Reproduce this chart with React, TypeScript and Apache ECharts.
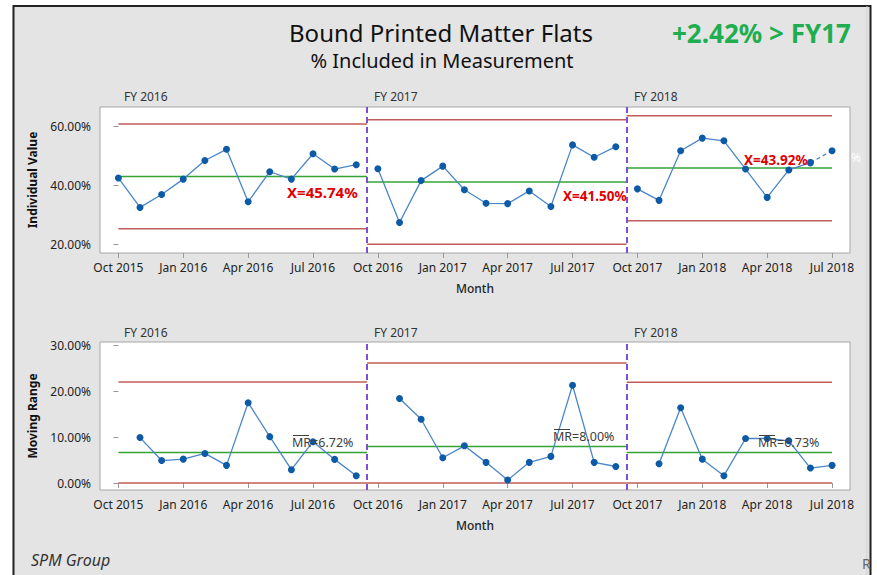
import React, { useEffect, useRef } from "react";
import * as echarts from "echarts";

// ---------- data ----------
const stageNames = ["FY 2016", "FY 2017", "FY 2018"];
const monthTickLabels = [
  "Oct 2015", "Jan 2016", "Apr 2016", "Jul 2016",
  "Oct 2016", "Jan 2017", "Apr 2017", "Jul 2017",
  "Oct 2017", "Jan 2018", "Apr 2018", "Jul 2018",
];
const fy16Values = [42.4, 32.4, 36.8, 42.0, 48.3, 52.1, 34.3, 44.5, 42.0, 50.6, 45.4, 46.9];
const fy17Values = [45.5, 27.3, 41.5, 46.4, 38.4, 33.8, 33.7, 38.0, 32.7, 53.6, 49.4, 53.0];
const fy18Values = [38.7, 34.8, 51.6, 55.9, 55.0, 45.4, 35.8, 45.1, 47.6, 51.6];

const fy16MR = [null, 9.9, 4.9, 5.2, 6.45, 3.85, 17.5, 10.1, 2.9, 9.0, 5.15, 1.6];
const fy17MR = [null, 18.4, 13.9, 5.5, 8.1, 4.5, 0.65, 4.5, 5.8, 21.3, 4.5, 3.6];
const fy18MR = [null, 4.2, 16.4, 5.2, 1.6, 9.7, 9.7, 9.2, 3.26, 3.85];

const indUCL = [60.7, 62.1, 63.5];
const indCL = [42.9, 41.0, 45.8];
const indLCL = [25.2, 19.9, 27.9];
const mrUCL = [22.0, 26.15, 21.96];
const mrCL = [6.67, 7.97, 6.67];
const mrLCL = [0, 0, 0];

const indMeanLabels = ["X=45.74%", "X=41.50%", "X=43.92%"];
const mrMeanLabels = ["MR=6.72%", "MR=8.00%", "MR=6.73%"];
const indTicks = [20, 40, 60];
const mrTicks = [0, 10, 20, 30];

// ---------- styles ----------
const FONT = '"Noto Sans", "Open Sans", sans-serif';
const LIMIT_COLOR = "#c05c5a";
const CL_COLOR = "#35a336";
const LINE_COLOR = "#4a86c8";
const POINT_COLOR = "#0d5aa7";
const DIVIDER_COLOR = "#7d4fd1";

export default function App() {
  const ref = useRef<HTMLDivElement>(null);

  useEffect(() => {
    if (!ref.current) return;
    const chart = echarts.init(ref.current, undefined, { renderer: "svg" });

    const stageInd = [fy16Values, fy17Values, fy18Values];
    const stageMR = [fy16MR, fy17MR, fy18MR];
    const starts: number[] = [];
    let acc = 0;
    stageInd.forEach((v) => {
      starts.push(acc);
      acc += v.length;
    });
    const lastIdx = acc - 1;
    const boundaries = starts.slice(1).map((s) => s - 0.5);
    const segStart = (s: number) => (s === 0 ? starts[0] : boundaries[s - 1]);
    const segEnd = (s: number) => (s === stageInd.length - 1 ? lastIdx : boundaries[s]);
    const tickIdx = monthTickLabels.map((_, i) => i * 3);

    const series: any[] = [];

    const limitSeries = (grid: number, s: number, val: number, color: string, extra: any = {}) => ({
      type: "line",
      xAxisIndex: grid,
      yAxisIndex: grid,
      data: [
        [segStart(s), val],
        [segEnd(s), val],
      ],
      symbol: "none",
      silent: true,
      lineStyle: { color, width: 1.5 },
      z: 2,
      ...extra,
    });

    const dividerMarkLine = {
      symbol: "none",
      silent: true,
      label: { show: false },
      lineStyle: { color: DIVIDER_COLOR, type: [6, 4], width: 2 },
      data: boundaries.map((b) => ({ xAxis: b })),
    };

    // limits
    stageInd.forEach((_, s) => {
      series.push(limitSeries(0, s, indUCL[s], LIMIT_COLOR, s === 0 ? { markLine: dividerMarkLine } : {}));
      series.push(limitSeries(0, s, indCL[s], CL_COLOR));
      series.push(limitSeries(0, s, indLCL[s], LIMIT_COLOR));
      series.push(limitSeries(1, s, mrUCL[s], LIMIT_COLOR, s === 0 ? { markLine: dividerMarkLine } : {}));
      series.push(limitSeries(1, s, mrCL[s], CL_COLOR));
      series.push(limitSeries(1, s, mrLCL[s], LIMIT_COLOR));
    });

    const pointSeries = (grid: number, data: any[], dashed = false) => ({
      type: "line",
      xAxisIndex: grid,
      yAxisIndex: grid,
      data,
      symbol: "circle",
      symbolSize: 7,
      itemStyle: { color: POINT_COLOR },
      lineStyle: { color: LINE_COLOR, width: 1.3, type: dashed ? [4, 3] : "solid" },
      z: 5,
      silent: true,
    });

    stageInd.forEach((vals, s) => {
      const pts = vals.map((v, i) => [starts[s] + i, v]);
      if (s === stageInd.length - 1) {
        series.push(pointSeries(0, pts.slice(0, pts.length - 1)));
        series.push(pointSeries(0, pts.slice(pts.length - 2), true));
      } else {
        series.push(pointSeries(0, pts));
      }
      const mr = stageMR[s]
        .map((v, i) => (v == null ? null : [starts[s] + i, v]))
        .filter((p) => p !== null);
      series.push(pointSeries(1, mr as any[]));
    });

    const xAxisBase = (grid: number) => ({
      type: "value",
      gridIndex: grid,
      min: -0.85,
      max: 33.83,
      name: "Month",
      nameLocation: "middle",
      nameGap: 29,
      nameTextStyle: { fontFamily: FONT, fontSize: 12, color: "#222", fontWeight: 500 },
      axisLine: { show: false },
      splitLine: { show: false },
      axisTick: { show: true, customValues: tickIdx, length: 5, lineStyle: { color: "#999" } },
      axisLabel: {
        customValues: tickIdx,
        margin: 8,
        fontFamily: FONT,
        fontSize: 12,
        color: "#222",
        formatter: (v: number) => monthTickLabels[Math.round(v / 3)] ?? "",
      },
    });

    const yAxisBase = (grid: number, min: number, max: number, ticks: number[], name: string) => ({
      type: "value",
      gridIndex: grid,
      min,
      max,
      name,
      nameLocation: "middle",
      nameGap: 62,
      nameTextStyle: { fontFamily: FONT, fontSize: 12, color: "#111", fontWeight: "bold" },
      axisLine: { show: false },
      splitLine: { show: false },
      axisTick: { show: true, customValues: ticks, length: 5, lineStyle: { color: "#999" } },
      axisLabel: {
        customValues: ticks,
        margin: 9,
        fontFamily: FONT,
        fontSize: 12,
        color: "#222",
        formatter: (v: number) => v.toFixed(2) + "%",
      },
    });

    const textEl = (text: string, x: number, y: number, style: any = {}) => ({
      type: "text",
      x,
      y,
      silent: true,
      z: 100,
      style: {
        text,
        fill: "#333",
        fontFamily: FONT,
        fontSize: 12,
        align: "left",
        verticalAlign: "middle",
        ...style,
      },
    });

    const stageLabelX = [124, 374, 634];
    const indLabelPos = [
      [287, 192],
      [563, 196],
      [744, 160],
    ];
    const indLabelSize = [15, 13.5, 13.5];
    const mrLabelPos = [
      [292, 442],
      [553, 436],
      [758, 442],
    ];

    const graphics: any[] = [
      // outside-frame white masks and frame
      { type: "rect", shape: { x: 0, y: 0, width: 12.5, height: 575 }, style: { fill: "#fff" }, silent: true },
      { type: "rect", shape: { x: 0, y: 0, width: 877, height: 5 }, style: { fill: "#fff" }, silent: true },
      { type: "rect", shape: { x: 871.5, y: 0, width: 6, height: 575 }, style: { fill: "#fff" }, silent: true },
      {
        type: "polyline",
        shape: { points: [[13.5, 580], [13.5, 6], [870.5, 6], [870.5, 580]] },
        style: { stroke: "#222", lineWidth: 2, fill: null },
        silent: true,
      },
      {
        type: "line",
        shape: { x1: 867, y1: 6, x2: 867, y2: 580 },
        style: { stroke: "#cfcfcf", lineWidth: 1 },
        silent: true,
      },
      textEl("Bound Printed Matter Flats", 441, 32, { align: "center", fontSize: 24, fill: "#111" }),
      textEl("% Included in Measurement", 442, 60, { align: "center", fontSize: 20, fill: "#111" }),
      textEl("+2.42% > FY17", 672, 33, { fontSize: 26, fontWeight: "bold", fill: "#1fae4f" }),
      textEl("SPM Group", 31, 560, { fontSize: 16, fontStyle: "italic", fill: "#333" }),
      textEl("R", 862, 563, { fontSize: 14, fill: "#666" }),
      textEl("%", 851, 157, { fontSize: 12, fill: "#fff" }),
    ];
    stageNames.forEach((n, s) => {
      graphics.push(textEl(n, stageLabelX[s], 96, { fill: "#333" }));
      graphics.push(textEl(n, stageLabelX[s], 332, { fill: "#333" }));
      graphics.push(
        textEl(indMeanLabels[s], indLabelPos[s][0], indLabelPos[s][1], {
          fontSize: indLabelSize[s],
          fontWeight: "bold",
          fill: "#e00000",
        })
      );
      graphics.push(
        textEl(mrMeanLabels[s], mrLabelPos[s][0], mrLabelPos[s][1], { fontSize: 12.5, fill: "#404040" })
      );
      graphics.push({
        type: "line",
        silent: true,
        z: 100,
        shape: {
          x1: mrLabelPos[s][0] + 1,
          y1: mrLabelPos[s][1] - 6.5,
          x2: mrLabelPos[s][0] + 17,
          y2: mrLabelPos[s][1] - 6.5,
        },
        style: { stroke: "#404040", lineWidth: 1 },
      });
    });

    chart.setOption({
      animation: false,
      backgroundColor: "#e4e4e4",
      grid: [
        { left: 100, top: 107, width: 750, height: 146, show: true, backgroundColor: "#fff", borderColor: "#a6a6a6", borderWidth: 1 },
        { left: 100, top: 342, width: 750, height: 148, show: true, backgroundColor: "#fff", borderColor: "#a6a6a6", borderWidth: 1 },
      ],
      xAxis: [xAxisBase(0), xAxisBase(1)],
      yAxis: [
        yAxisBase(0, 16.95, 66.45, indTicks, "Individual Value"),
        yAxisBase(1, -1.52, 30.72, mrTicks, "Moving Range"),
      ],
      series,
      graphic: graphics,
    });

    return () => chart.dispose();
  }, []);

  return (
    <div
      ref={ref}
      style={{ position: "fixed", left: 0, top: 0, width: 877, height: 575 }}
    />
  );
}
